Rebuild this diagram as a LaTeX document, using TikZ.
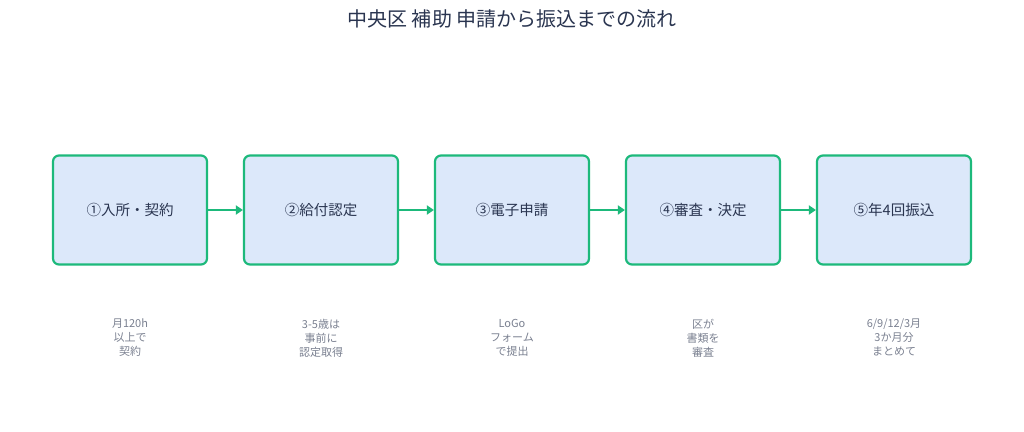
\documentclass[tikz,border=0pt]{standalone}
\usepackage{fontspec}
\setmainfont{Noto Sans CJK JP}
\usetikzlibrary{positioning, arrows.meta}
\definecolor{stepgreen}{HTML}{1DB97B}
\definecolor{stepfill}{HTML}{DCE8FA}
\definecolor{titlecol}{HTML}{2A3550}
\definecolor{notecol}{HTML}{7A8090}
\begin{document}
\begin{tikzpicture}[x=1pt, y=-1pt, align=center, node distance=34.8pt]

\tikzstyle{stepbox} = [rectangle, rounded corners=6pt, minimum width=154pt, minimum height=109pt, text centered, draw=stepgreen, line width=2.2pt, fill=stepfill, text=titlecol, font=\fontsize{14.5}{17}\selectfont]
\tikzstyle{note} = [text=notecol, font=\fontsize{11}{14}\selectfont, inner sep=0pt]
\tikzstyle{arrow} = [stepgreen, line width=2.2pt, -{Triangle[length=7pt, width=9pt]}]

\useasboundingbox (0,0) rectangle (1024,431);
\node (title) [text=titlecol, font=\fontsize{20}{24}\selectfont] at (512,19) {中央区 補助 申請から振込までの流れ};

\node (entry) [stepbox] at (130,210) {①入所・契約};
\node (cert) [stepbox, right=of entry] {②給付認定};
\node (apply) [stepbox, right=of cert] {③電子申請};
\node (review) [stepbox, right=of apply] {④審査・決定};
\node (pay) [stepbox, right=of review] {⑤年4回振込};

\node (entrynote) [note, below=53pt of entry] {月120h\\以上で\\契約};
\node (certnote) [note, below=53pt of cert] {3-5歳は\\事前に\\認定取得};
\node (applynote) [note, below=53pt of apply] {LoGo\\フォーム\\で提出};
\node (reviewnote) [note, below=53pt of review] {区が\\書類を\\審査};
\node (paynote) [note, below=53pt of pay] {6/9/12/3月\\3か月分\\まとめて};

\draw [arrow] (entry) -- (cert);
\draw [arrow] (cert) -- (apply);
\draw [arrow] (apply) -- (review);
\draw [arrow] (review) -- (pay);
\end{tikzpicture}
\end{document}
